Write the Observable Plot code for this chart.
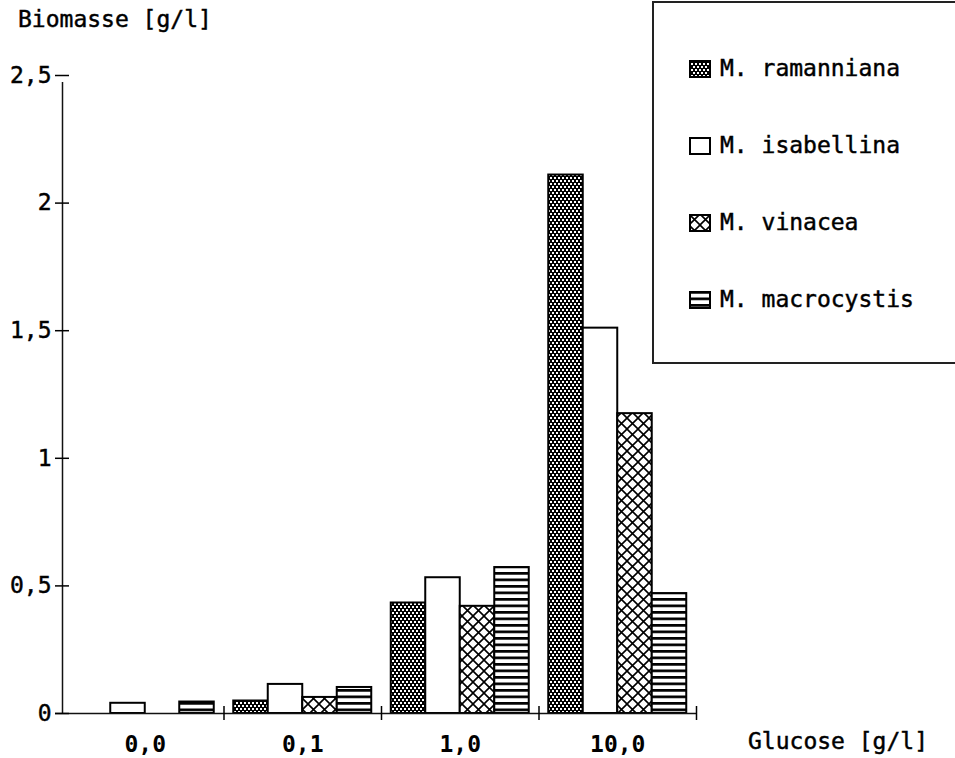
<!DOCTYPE html>
<html>
<head>
<meta charset="utf-8">
<script src="https://cdn.jsdelivr.net/npm/d3@7"></script>
<script src="https://cdn.jsdelivr.net/npm/@observablehq/plot@0.6"></script>
<style>
  body { margin: 0; background: #fff; overflow: hidden; }
  #wrap { position: relative; width: 955px; height: 758px; overflow: hidden;
          font-family: "DejaVu Sans Mono", "Liberation Mono", monospace; font-size: 23px; color: #000; background: #fff; }
  #wrap svg.plot { position: absolute; left: 0; top: 0; }
  .lbl { position: absolute; line-height: 23px; white-space: pre; -webkit-text-stroke: 0.45px #000; }
  #legend { position: absolute; left: 652px; top: 1px; width: 330px; height: 359px;
            border: 2px solid #222; box-sizing: content-box; }
  .item { position: absolute; left: 35px; height: 23px; display: flex; align-items: center; }
  .item svg { display: block; margin-right: 9px; }
  .item span { line-height: 23px; white-space: pre; -webkit-text-stroke: 0.45px #000; }
  svg.plot .yax text { stroke: #000; stroke-width: 0.45px; }
  svg.plot .gx text { font-weight: bold; }
</style>
</head>
<body>
<svg width="0" height="0" style="position:absolute">
  <defs>
    <pattern id="pat-ram" patternUnits="userSpaceOnUse" width="4" height="6">
      <rect width="4" height="6" fill="#000"/>
      <rect x="0" y="0" width="2" height="2" fill="#fff"/>
      <rect x="2" y="3" width="2" height="2" fill="#fff"/>
    </pattern>
    <pattern id="pat-isa" patternUnits="userSpaceOnUse" width="4" height="4">
      <rect width="4" height="4" fill="#fff"/>
    </pattern>
    <pattern id="pat-vin" patternUnits="userSpaceOnUse" width="11" height="11">
      <rect width="11" height="11" fill="#fff"/>
      <path d="M-1,-1L12,12M12,-1L-1,12" stroke="#000" stroke-width="1.6"/>
    </pattern>
    <pattern id="pat-mac" patternUnits="userSpaceOnUse" width="8" height="6.5">
      <rect width="8" height="6.5" fill="#fff"/>
      <rect y="0" width="8" height="2.7" fill="#000"/>
    </pattern>
  </defs>
</svg>
<div id="wrap">
  <div class="lbl" style="left:18px;top:8px">Biomasse [g/l]</div>
  <div class="lbl" style="left:748px;top:730px">Glucose [g/l]</div>
  <div id="legend"></div>
</div>
<script>
// ---- data ----
const groups = ["0,0", "0,1", "1,0", "10,0"];           // Glucose [g/l]
const species = ["M. ramanniana", "M. isabellina", "M. vinacea", "M. macrocystis"];
const ramanniana  = [0,     0.049, 0.433, 2.11];
const isabellina  = [0.040, 0.114, 0.532, 1.51];
const vinacea     = [0,     0.063, 0.420, 1.175];
const macrocystis = [0.045, 0.102, 0.572, 0.47];
const yTicks = [0, 0.5, 1, 1.5, 2, 2.5];
const yTickLabels = ["0", "0,5", "1", "1,5", "2", "2,5"];

// ---- build table ----
const series = [ramanniana, isabellina, vinacea, macrocystis];
const patIds = ["pat-ram", "pat-isa", "pat-vin", "pat-mac"];
const barW = 34.5 / 157.5;              // bar width in group units
const pad = (1 - 4 * barW) / 2;         // outer gap in group units
const rows = [];
groups.forEach((g, gi) => series.forEach((vals, si) => {
  rows.push({group: g, species: species[si], gi, si, value: vals[gi],
             x1: gi + pad + si * barW, x2: gi + pad + (si + 1) * barW});
}));
const xmin = -4 / 157.5;

const barMarks = species.map((s, si) =>
  Plot.rect(rows.filter(r => r.si === si && r.value > 0), {
    x1: "x1", x2: "x2", y1: () => 0, y2: "value",
    fill: `url(#${patIds[si]})`, stroke: "black", strokeWidth: 2
  })
);

const chart = Plot.plot({
  width: 955, height: 758,
  marginLeft: 62, marginRight: 259, marginTop: 75, marginBottom: 45,
  x: {domain: [xmin, groups.length], label: null},
  y: {domain: [0, 2.5], label: null},
  style: {fontFamily: "DejaVu Sans Mono, Liberation Mono, monospace", fontSize: "23px", color: "black", background: "transparent"},
  marks: [
    ...barMarks,
    Plot.ruleY([0], {x1: () => xmin, x2: () => groups.length, insetLeft: -7, stroke: "#111", strokeWidth: 1.5}),
    Plot.ruleX([xmin], {y1: () => 0, y2: () => 2.5, insetBottom: -7, stroke: "#111", strokeWidth: 1.5}),
    Plot.axisY({ticks: yTicks, tickSize: 14, dx: 7, tickPadding: 4, strokeWidth: 1.5, className: "yax",
                tickFormat: d => yTickLabels[yTicks.indexOf(d)], label: null}),
    Plot.axisX({ticks: d3.range(1, groups.length + 1), tickSize: 14, dy: -7, strokeWidth: 1.5,
                tickFormat: () => "", label: null}),
    Plot.axisX({ticks: groups.map((g, i) => i + 0.5), tickSize: 0, tickPadding: 22, className: "gx",
                tickFormat: d => groups[Math.floor(d)], label: null})
  ]
});
chart.classList.add("plot");
document.getElementById("wrap").prepend(chart);

// ---- legend ----
const legend = d3.select("#legend");
species.forEach((s, si) => {
  const item = legend.append("div").attr("class", "item").style("top", (54 + si * 77) + "px");
  const sw = item.append("svg").attr("width", 22).attr("height", 18);
  sw.append("rect").attr("x", 1).attr("y", 1).attr("width", 20).attr("height", 16)
    .attr("fill", `url(#${patIds[si]})`).attr("stroke", "black").attr("stroke-width", 2);
  item.append("span").text(s);
});
</script>
</body>
</html>
